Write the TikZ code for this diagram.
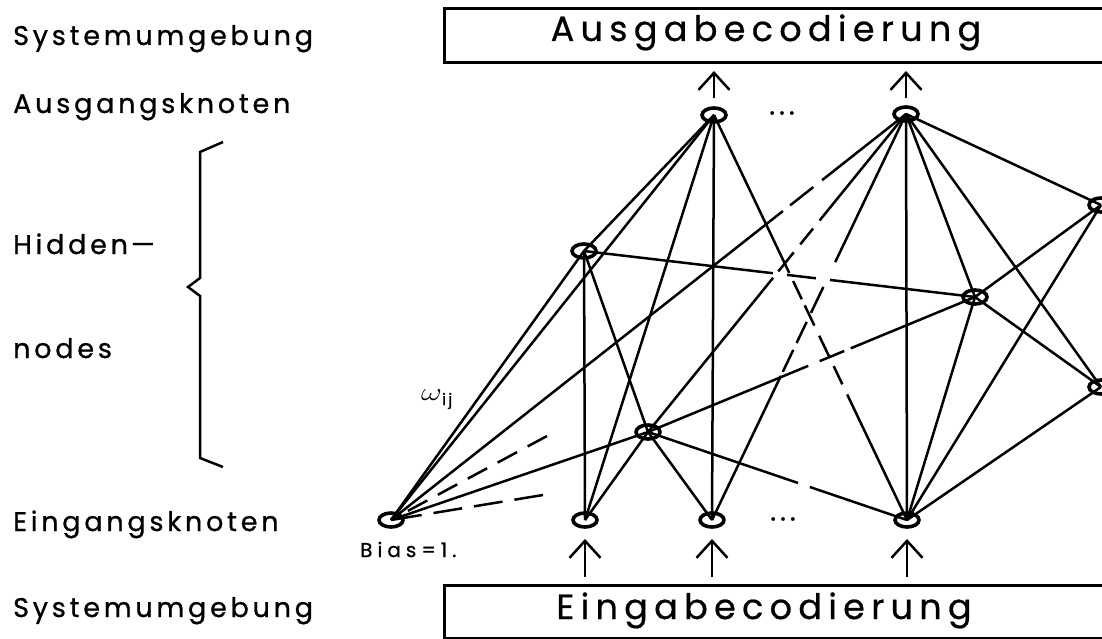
\documentclass[tikz,border=0pt]{standalone}
\usepackage{fontspec}
\usetikzlibrary{shapes.geometric,calc,arrows.meta}
\newfontfamily\plotfont[LetterSpace=14,FakeBold=0.8]{Poppins}
\newfontfamily\boxfont[LetterSpace=18,FakeBold=0.6]{Poppins}
\newfontfamily\smallplotfont[LetterSpace=25,FakeBold=0.8]{Poppins}
% one solid piece of a connector, between fractions #3 and #4 of the way from #1 to #2
\newcommand\edgepiece[4]{\draw[link] ($(#1.center)!#3!(#2.center)$) -- ($(#1.center)!#4!(#2.center)$);}
\begin{document}
\begin{tikzpicture}[x=1pt,y=-1pt,
  neuron/.style={draw,ellipse,line width=3.6pt,minimum width=24pt,minimum height=14pt,inner sep=0pt},
  link/.style={line width=2.5pt},
  stubA/.style={line width=2.5pt,dash pattern=on 22pt off 12pt},
  stubB/.style={line width=2.5pt,dash pattern=on 29pt off 12pt},
  codebox/.style={draw,line width=3pt,rectangle,inner sep=0pt,anchor=north west},
  boxtext/.style={anchor=base,inner sep=0pt,font=\boxfont\fontsize{35}{35}\selectfont},
  sidetext/.style={anchor=base west,inner sep=0pt,font=\plotfont\fontsize{27}{27}\selectfont},
  dotrow/.style={inner sep=0pt,font=\plotfont\fontsize{28}{28}\selectfont},
  feed/.style={line width=2.5pt,-{Straight Barb[length=17pt,width=31pt]}},
  bracket/.style={line width=2.5pt,line join=miter}]
\fill[white] (0,0) rectangle (1102,639);
\clip (0,0) rectangle (1102,639);

% coding boxes (open to the right)
\node[codebox,minimum width=690pt,minimum height=54pt] (outbox) at (443,7) {};
\node[codebox,minimum width=690pt,minimum height=53pt] (inbox) at (443,584) {};
\node[boxtext] (outtext) at (766,41) {Ausgabecodierung};
\node[boxtext] (intext) at (764,619) {Eingabecodierung};

% side labels
\node[sidetext] (sysA) at (13,45) {Systemumgebung};
\node[sidetext] (outlab) at (13,113) {Ausgangsknoten};
\node[sidetext] (hidA) at (13,254) {Hidden\hspace{3pt}—};
\node[sidetext] (hidB) at (13,358) {nodes};
\node[sidetext] (inlab) at (13,531) {Eingangsknoten};
\node[sidetext] (sysB) at (13,617) {Systemumgebung};
\draw[bracket] (223,142) -- (200,152) -- (200,278) -- (188,287) -- (200,296) -- (200,458) -- (223,467);

% neurons
\node[neuron] (bias) at (391,520) {};
\node[neuron] (i1) at (585,520) {};
\node[neuron] (i2) at (712,520) {};
\node[neuron] (i3) at (907,520) {};
\node[neuron] (h1) at (584,251) {};
\node[neuron] (h2) at (648,432) {};
\node[neuron] (h3) at (975,297) {};
\node[neuron] (h4) at (1101,205) {};
\node[neuron] (h5) at (1101,387) {};
\node[neuron] (o1) at (714,115) {};
\node[neuron] (o2) at (906,114) {};

\node[dotrow] (dotsO) at (782,113) {...};
\node[dotrow] (dotsI) at (783,519) {...};
\node[anchor=base west,inner sep=0pt,font=\smallplotfont\fontsize{20}{20}\selectfont] (biaslab) at (360,557) {Bias=1.};
\node[anchor=base west,inner sep=0pt] (wlab) at (421,400)
  {\fontsize{30}{30}\selectfont\scalebox{1.3}[1]{$\omega$}\raisebox{-5pt}{\plotfont\fontsize{16}{16}\selectfont ij}};

% feed arrows
\coordinate (ao1s) at (714,98);  \coordinate (ao1e) at (714,71);
\coordinate (ao2s) at (906,98);  \coordinate (ao2e) at (906,71);
\coordinate (ai1s) at (585,577); \coordinate (ai1e) at (585,539);
\coordinate (ai2s) at (712,577); \coordinate (ai2e) at (712,539);
\coordinate (ai3s) at (907,577); \coordinate (ai3e) at (907,539);
\draw[feed] (ao1s) -- (ao1e);
\draw[feed] (ao2s) -- (ao2e);
\draw[feed] (ai1s) -- (ai1e);
\draw[feed] (ai2s) -- (ai2e);
\draw[feed] (ai3s) -- (ai3e);

% weights, solid
\foreach \a/\b in {bias/h1,bias/o1,bias/h2,h1/o1,h1/i1,h1/h2,h2/i1,h2/i2,
                   h3/o2,h3/h4,h3/h5,h3/i3,h4/o2,h4/i3,h5/o2,h5/i3,o1/i1,o1/i2,o2/i3}
  \draw[link] (\a.center) -- (\b.center);

% weights passing behind others
\edgepiece{bias}{o2}{0}{0.761}\edgepiece{bias}{o2}{0.775}{0.820}\edgepiece{bias}{o2}{0.837}{1}
\edgepiece{h1}{h3}{0}{0.483}\edgepiece{h1}{h3}{0.519}{0.593}\edgepiece{h1}{h3}{0.629}{1}
\edgepiece{o2}{h2}{0}{0.335}\edgepiece{o2}{h2}{0.36}{0.41}\edgepiece{o2}{h2}{0.435}{0.495}\edgepiece{o2}{h2}{0.515}{1}
\edgepiece{o2}{i2}{0}{0.365}\edgepiece{o2}{i2}{0.426}{0.490}\edgepiece{o2}{i2}{0.512}{0.564}\edgepiece{o2}{i2}{0.581}{0.635}\edgepiece{o2}{i2}{0.645}{1}
\edgepiece{o1}{i3}{0}{0.39}\edgepiece{o1}{i3}{0.41}{0.455}\edgepiece{o1}{i3}{0.47}{0.52}\edgepiece{o1}{i3}{0.545}{0.60}\edgepiece{o1}{i3}{0.62}{0.665}\edgepiece{o1}{i3}{0.69}{1}
\edgepiece{h2}{h3}{0}{0.49}\edgepiece{h2}{h3}{0.525}{0.60}\edgepiece{h2}{h3}{0.62}{1}
\edgepiece{h2}{i3}{0}{0.579}\edgepiece{h2}{i3}{0.625}{1}

% further bias weights, only begun
\coordinate (stubU) at (547,436);
\coordinate (stubL) at (543,495);
\draw[stubA] (stubU) -- (bias.center);
\draw[stubB] (stubL) -- (bias.center);
\end{tikzpicture}
\end{document}
